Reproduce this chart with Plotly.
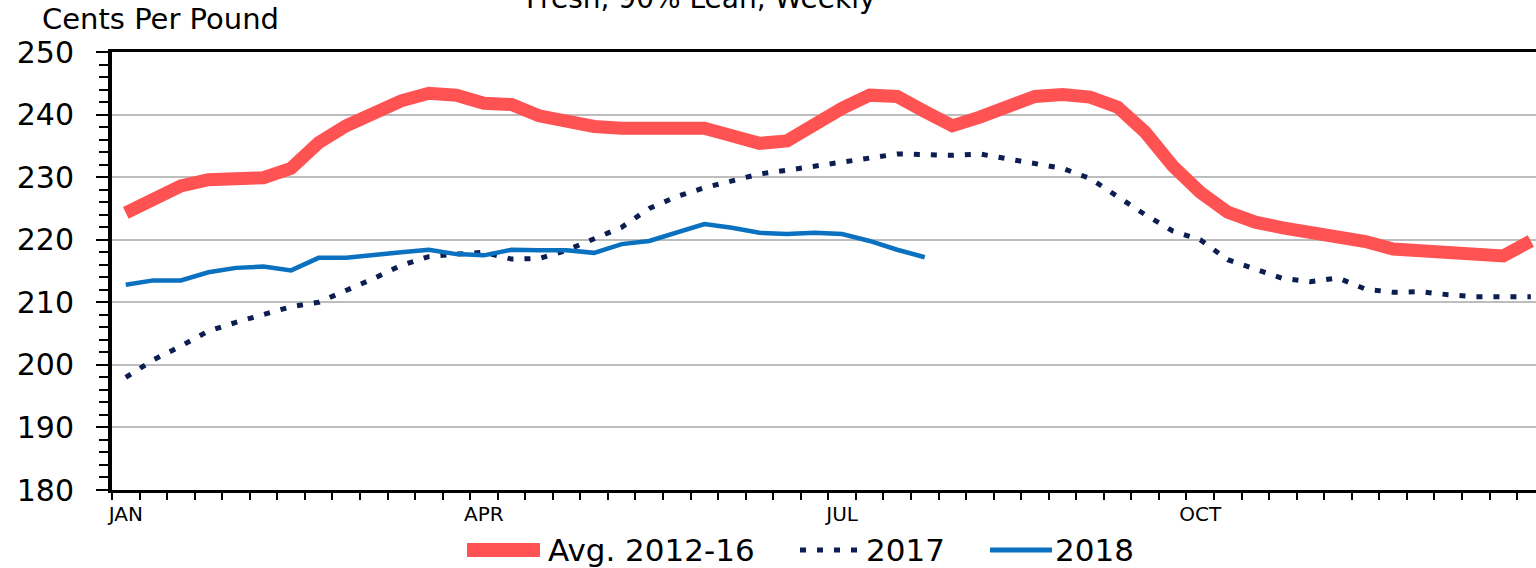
import plotly.graph_objects as go

# Weekly ground beef retail price, fresh 90% lean (cents per pound)
weeks = list(range(1, 53))
month_ticks = [1, 14, 27, 40]
month_labels = ["JAN", "APR", "JUL", "OCT"]

avg_2012_16 = [224.3, 226.6, 228.6, 229.6, 229.5, 229.9, 231.4, 235.5, 238.2, 240.3,
               242.2, 243.4, 243.1, 241.8, 241.6, 239.8, 238.9, 238.1, 237.8, 237.7,
               237.9, 237.8, 236.6, 235.4, 235.8, 238.5, 241.0, 243.1, 242.9, 240.5,
               238.2, 239.6, 241.0, 242.9, 243.2, 242.8, 241.2, 237.2, 231.8, 227.6,
               224.4, 222.8, 221.9, 221.3, 220.8, 219.7, 218.5, 218.2, 217.6, 217.3,
               217.4, 219.8]
y2017 = [198.0, 200.8, 203.0, 205.4, 206.8, 208.0, 209.3, 210.0, 211.8, 213.8,
         215.9, 217.3, 217.7, 218.0, 216.9, 217.0, 218.3, 220.2, 222.0, 225.0,
         226.9, 228.3, 229.4, 230.5, 231.1, 231.8, 232.4, 233.1, 233.7, 233.6,
         233.5, 233.7, 232.9, 232.0, 231.4, 229.8, 226.8, 224.0, 221.4, 220.0,
         216.8, 215.2, 213.8, 213.3, 213.9, 212.1, 211.6, 211.7, 211.2, 210.9,
         210.9, 210.9]
y2018 = [212.8, 213.5, 213.5, 214.8, 215.5, 215.7, 215.1, 217.1, 217.1, 217.6,
         218.0, 218.4, 217.7, 217.5, 218.4, 218.3, 218.3, 217.9, 219.3, 219.8,
         221.1, 222.5, 221.9, 221.1, 220.9, 221.1, 220.9, 219.8, 218.4, 217.2]

series_names = ["Avg. 2012-16", "2017", "2018"]
RED = "#FF5252"
NAVY = "#0B1D51"
BLUE = "#0A70C0"
DOT_DASH = "6px,11px"
FONT = "DejaVu Sans"

W, H = 1536, 568
ML, MR, MT, MB = 112, 0, 52, 78
PW, PH = W - ML - MR, H - MT - MB
WEEK_PX = 27.55


def px_x(x):
    return (x - ML) / PW


def px_y(y):
    return (H - MB - y) / PH


fig = go.Figure()
fig.add_trace(go.Scatter(x=weeks, y=avg_2012_16, mode="lines", name=series_names[0],
                         line=dict(color=RED, width=13)))
fig.add_trace(go.Scatter(x=weeks, y=y2017, mode="lines", name=series_names[1],
                         line=dict(color=NAVY, width=5, dash=DOT_DASH)))
fig.add_trace(go.Scatter(x=weeks[:len(y2018)], y=y2018, mode="lines", name=series_names[2],
                         line=dict(color=BLUE, width=4.5)))

fig.update_layout(
    width=W, height=H,
    margin=dict(l=ML, r=MR, t=MT, b=MB),
    paper_bgcolor="white", plot_bgcolor="white",
    showlegend=False,
    font=dict(family=FONT, color="black"),
)

fig.update_xaxes(
    range=[0.5, 0.5 + PW / WEEK_PX],
    tickmode="array", tickvals=month_ticks, ticktext=month_labels,
    ticks="", tickfont=dict(size=20), ticklabelstandoff=4,
    showgrid=False, zeroline=False,
    showline=True, linecolor="black", linewidth=3, mirror=True,
    minor=dict(tickmode="linear", tick0=0.5, dtick=1, ticks="outside",
               ticklen=7, tickwidth=2, tickcolor="black", showgrid=False),
)
fig.update_yaxes(
    range=[180, 250], tickmode="linear", tick0=180, dtick=10,
    ticks="outside", ticklen=12, tickwidth=1.5, tickcolor="black",
    tickfont=dict(size=30), ticklabelstandoff=16,
    showgrid=True, gridcolor="#BDBDBD", gridwidth=1.5, zeroline=False,
    showline=True, linecolor="black", linewidth=4,
    minor=dict(dtick=2, ticks="outside", ticklen=9, tickwidth=1.5,
               tickcolor="black", showgrid=False),
)

annotations = [
    dict(text="Fresh, 90% Lean, Weekly", x=px_x(701), y=px_y(17), xanchor="center",
         yanchor="bottom", font=dict(size=28)),
    dict(text="Cents Per Pound", x=px_x(40), y=px_y(38), xanchor="left",
         yanchor="bottom", font=dict(size=29)),
]

# Legend row drawn under the plot
legend_y = 550
legend_items = [
    (467, 540, RED, 14, "solid", 546),
    (800, 860, NAVY, 5, DOT_DASH, 864),
    (990, 1052, BLUE, 5, "solid", 1053),
]
shapes = []
for (x0, x1, color, width, dash, tx), name in zip(legend_items, series_names):
    shapes.append(dict(type="line", xref="paper", yref="paper",
                       x0=px_x(x0), x1=px_x(x1), y0=px_y(legend_y), y1=px_y(legend_y),
                       line=dict(color=color, width=width, dash=dash)))
    annotations.append(dict(text=name, x=px_x(tx), y=px_y(legend_y), xanchor="left",
                            yanchor="middle", font=dict(size=31)))

for a in annotations:
    a.update(xref="paper", yref="paper", showarrow=False)

fig.update_layout(annotations=annotations, shapes=shapes)

fig.write_html("out.html")
